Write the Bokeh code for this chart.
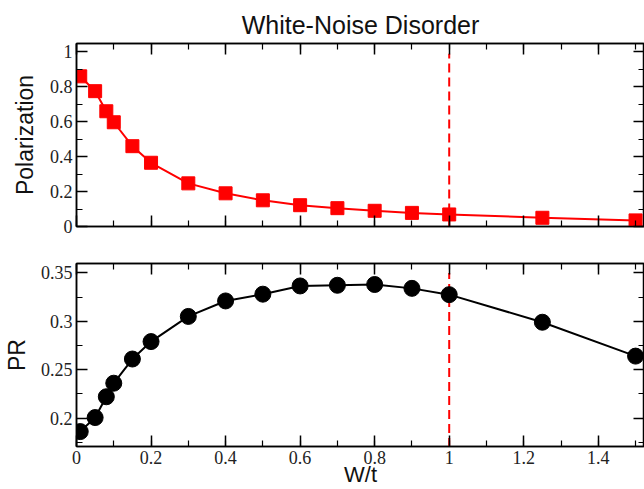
from bokeh.plotting import figure
from bokeh.layouts import column
from bokeh.models import LinearAxis, Range1d, SingleIntervalTicker, NumeralTickFormatter
from bokeh.embed import file_html
from bokeh.resources import INLINE

# ---- data ----
w_over_t = [0.01, 0.05, 0.08, 0.1, 0.15, 0.2, 0.3, 0.4, 0.5, 0.6, 0.7, 0.8, 0.9, 1.0, 1.25, 1.5]
polarization = [0.86, 0.775, 0.66, 0.597, 0.46, 0.365, 0.247, 0.19, 0.15, 0.122, 0.105, 0.09,
                0.078, 0.069, 0.05, 0.035]
pr = [0.186, 0.2005, 0.222, 0.236, 0.261, 0.279, 0.305, 0.321, 0.328, 0.3365, 0.3372, 0.338,
      0.334, 0.3275, 0.299, 0.264]
critical_w = [1.0]
pol_dash_range = [0.0, 0.99]
pr_dash_range = [0.17, 0.35]

title_text = "White-Noise Disorder"
x_label = "W/t"
pol_label = "Polarization"
pr_label = "PR"

SANS = "Liberation Sans"
SERIF = "Liberation Serif"
X_RANGE = (0, 1.524)


def style_axis(ax, interval, show_labels):
    ax.ticker = SingleIntervalTicker(interval=interval, num_minor_ticks=2)
    ax.formatter = NumeralTickFormatter(format="0.[00]")
    ax.axis_line_color = "black"
    ax.axis_line_width = 1.5
    ax.major_tick_line_color = "black"
    ax.major_tick_line_width = 1.5
    ax.minor_tick_line_color = "black"
    ax.minor_tick_line_width = 1.2
    ax.major_tick_in = 11
    ax.major_tick_out = 0
    ax.minor_tick_in = 6
    ax.minor_tick_out = 0
    if show_labels:
        ax.major_label_text_font = SERIF
        ax.major_label_text_font_size = "18px"
        ax.major_label_text_color = "#222222"
        ax.major_label_standoff = 4
    else:
        ax.major_label_text_font_size = "0px"
        ax.major_label_standoff = 0


def label_axis(ax, text, standoff, size="23px"):
    ax.axis_label = text
    ax.axis_label_text_font = SANS
    ax.axis_label_text_font_size = size
    ax.axis_label_text_font_style = "normal"
    ax.axis_label_text_color = "#111111"
    ax.axis_label_standoff = standoff


def make_fig(height, y_range, y_interval, show_x_labels, min_top, min_bottom):
    p = figure(width=644, height=height, x_range=Range1d(*X_RANGE), y_range=Range1d(*y_range),
               output_backend="svg", toolbar_location=None,
               min_border_left=74, min_border_right=0,
               min_border_top=min_top, min_border_bottom=min_bottom)
    p.grid.visible = False
    p.outline_line_color = "black"
    p.outline_line_width = 1.5
    p.background_fill_color = "white"
    p.border_fill_color = "white"
    style_axis(p.below[0], 0.2, show_x_labels)
    style_axis(p.left[0], y_interval, True)
    top = LinearAxis()
    style_axis(top, 0.2, False)
    p.add_layout(top, "above")
    right = LinearAxis()
    style_axis(right, y_interval, False)
    p.add_layout(right, "right")
    return p


# ---- top panel: polarization ----
p1 = make_fig(236, (0, 1.048), 0.2, False, 43, 10)
p1.title.text = title_text
p1.title.align = "center"
p1.title.text_font = SANS
p1.title.text_font_size = "25px"
p1.title.text_font_style = "normal"
p1.title.text_color = "#111111"
label_axis(p1.left[0], pol_label, 9)

p1.segment(x0=critical_w, y0=[pol_dash_range[0]], x1=critical_w, y1=[pol_dash_range[1]],
           line_color="red", line_width=2, line_dash="9 5")
p1.line(w_over_t, polarization, line_color="red", line_width=2)
p1.scatter(w_over_t, polarization, marker="square", size=13, fill_color="red", line_color="red")

# ---- bottom panel: PR ----
p2 = make_fig(253, (0.1706, 0.3597), 0.05, True, 27, 43)
label_axis(p2.left[0], pr_label, 8)
label_axis(p2.below[0], x_label, -5, "22px")
p2.below[0].major_label_standoff = 4

p2.segment(x0=critical_w, y0=[pr_dash_range[0]], x1=critical_w, y1=[pr_dash_range[1]],
           line_color="red", line_width=2, line_dash="9 5")
p2.line(w_over_t, pr, line_color="black", line_width=2)
p2.scatter(w_over_t, pr, marker="circle", size=16, fill_color="black", line_color="black")

layout = column(p1, p2, spacing=0)
open("out.html", "w").write(file_html(layout, INLINE))
